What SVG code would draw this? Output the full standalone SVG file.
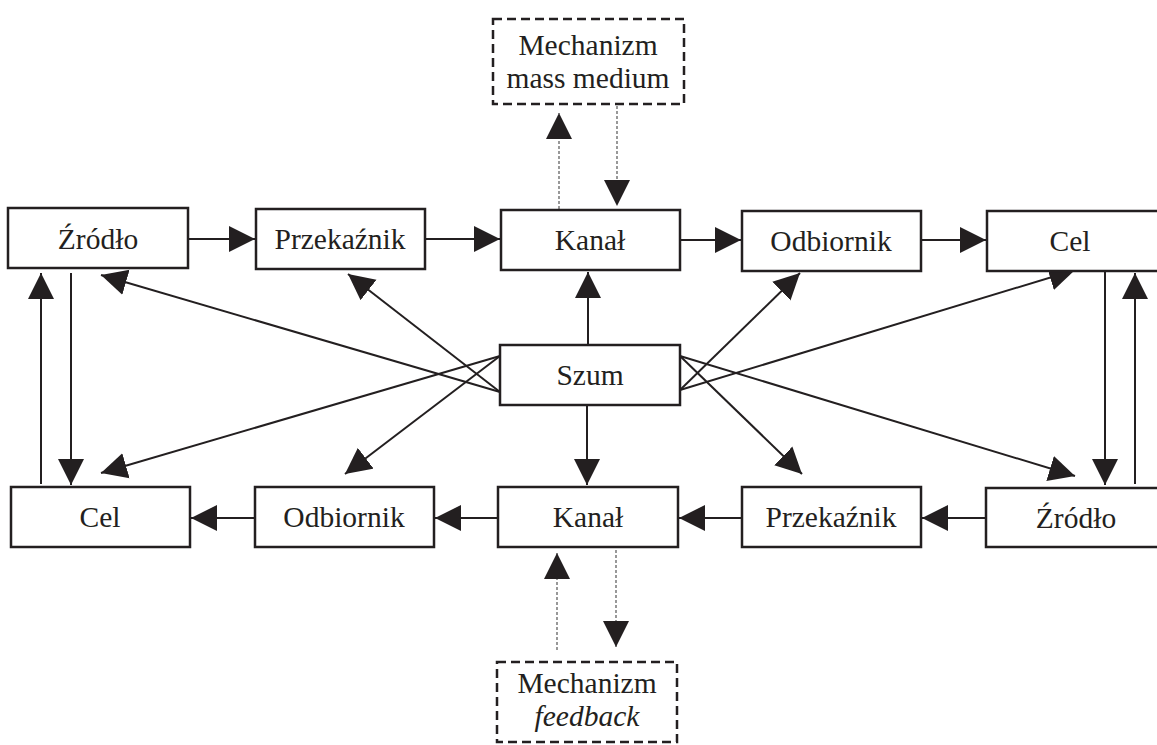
<svg xmlns="http://www.w3.org/2000/svg" width="1157" height="745" viewBox="0 0 1157 745">
<style>
.box{fill:#fff;stroke:#231f20;stroke-width:2.5}
.dbox{fill:#fff;stroke:#231f20;stroke-width:2.5;stroke-dasharray:9,5}
.t{font-family:'Liberation Serif','Times New Roman','DejaVu Serif',serif;font-size:29.5px;fill:#231f20;text-anchor:middle}
.it{font-style:italic}
.c{stroke:#231f20;stroke-width:2;fill:none}
.d{stroke:#555;stroke-width:1.2;fill:none;stroke-dasharray:3,2}
</style>
<defs>
<marker id="ah" markerUnits="userSpaceOnUse" markerWidth="27" markerHeight="27" refX="26" refY="13" orient="auto" viewBox="0 0 27 26">
<path d="M0,0 L26,13 L0,26 z" fill="#231f20" stroke="none"/>
</marker>
</defs>
<g id="connectors">
<line class="c" x1="188" y1="239" x2="255" y2="239" marker-end="url(#ah)"/>
<line class="c" x1="425" y1="239" x2="500" y2="239" marker-end="url(#ah)"/>
<line class="c" x1="680" y1="240" x2="741" y2="240" marker-end="url(#ah)"/>
<line class="c" x1="921" y1="240" x2="986" y2="240" marker-end="url(#ah)"/>
<line class="c" x1="255" y1="518" x2="191" y2="518" marker-end="url(#ah)"/>
<line class="c" x1="498" y1="518" x2="435" y2="518" marker-end="url(#ah)"/>
<line class="c" x1="742" y1="518" x2="679" y2="518" marker-end="url(#ah)"/>
<line class="c" x1="986" y1="518" x2="922" y2="518" marker-end="url(#ah)"/>
<line class="c" x1="41" y1="484" x2="41" y2="273" marker-end="url(#ah)"/>
<line class="c" x1="71" y1="273" x2="71" y2="485" marker-end="url(#ah)"/>
<line class="c" x1="1105" y1="272" x2="1105" y2="485" marker-end="url(#ah)"/>
<line class="c" x1="1135" y1="484" x2="1135" y2="273" marker-end="url(#ah)"/>
<line class="c" x1="588" y1="345" x2="588" y2="272" marker-end="url(#ah)"/>
<line class="c" x1="587" y1="405" x2="587" y2="485" marker-end="url(#ah)"/>
<line class="c" x1="500" y1="392" x2="101" y2="275" marker-end="url(#ah)"/>
<line class="c" x1="500" y1="392" x2="348" y2="274" marker-end="url(#ah)"/>
<line class="c" x1="500" y1="356" x2="101" y2="473" marker-end="url(#ah)"/>
<line class="c" x1="500" y1="356" x2="345" y2="474" marker-end="url(#ah)"/>
<line class="c" x1="680" y1="390" x2="800" y2="273" marker-end="url(#ah)"/>
<line class="c" x1="680" y1="390" x2="1075" y2="270" marker-end="url(#ah)"/>
<line class="c" x1="680" y1="356" x2="802" y2="474" marker-end="url(#ah)"/>
<line class="c" x1="680" y1="356" x2="1075" y2="476" marker-end="url(#ah)"/>
<line class="d" x1="559" y1="209" x2="559" y2="113" marker-end="url(#ah)"/>
<line class="d" x1="617" y1="106" x2="617" y2="206" marker-end="url(#ah)"/>
<line class="d" x1="557" y1="650" x2="557" y2="553" marker-end="url(#ah)"/>
<line class="d" x1="616" y1="550" x2="616" y2="647" marker-end="url(#ah)"/>
</g>
<g id="mass-medium"><rect class="dbox" x="493" y="19" width="191" height="85"/><text class="t" x="588" y="55">Mechanizm</text><text class="t" x="588" y="88">mass medium</text></g>
<g id="zrodlo-top"><rect class="box" x="8" y="208" width="180" height="60"/><text class="t" x="98" y="249">Źródło</text></g>
<g id="przekaznik-top"><rect class="box" x="256" y="209" width="169" height="60"/><text class="t" x="340" y="249">Przekaźnik</text></g>
<g id="kanal-top"><rect class="box" x="501" y="210" width="179" height="60"/><text class="t" x="590" y="250">Kanał</text></g>
<g id="odbiornik-top"><rect class="box" x="742" y="211" width="179" height="60"/><text class="t" x="831" y="251">Odbiornik</text></g>
<g id="cel-top"><rect class="box" x="987" y="211" width="180" height="60"/><text class="t" x="1070" y="251">Cel</text></g>
<g id="szum"><rect class="box" x="500" y="345" width="180" height="60"/><text class="t" x="590" y="385">Szum</text></g>
<g id="cel-bottom"><rect class="box" x="11" y="487" width="179" height="60"/><text class="t" x="100" y="527">Cel</text></g>
<g id="odbiornik-bottom"><rect class="box" x="255" y="487" width="179" height="60"/><text class="t" x="344" y="527">Odbiornik</text></g>
<g id="kanal-bottom"><rect class="box" x="498" y="487" width="180" height="60"/><text class="t" x="588" y="527">Kanał</text></g>
<g id="przekaznik-bottom"><rect class="box" x="742" y="487" width="179" height="60"/><text class="t" x="831" y="527">Przekaźnik</text></g>
<g id="zrodlo-bottom"><rect class="box" x="986" y="488" width="181" height="59"/><text class="t" x="1076" y="528">Źródło</text></g>
<g id="feedback"><rect class="dbox" x="497" y="662" width="180" height="80"/><text class="t" x="587" y="693">Mechanizm</text><text class="t it" x="587" y="726">feedback</text></g>
</svg>
